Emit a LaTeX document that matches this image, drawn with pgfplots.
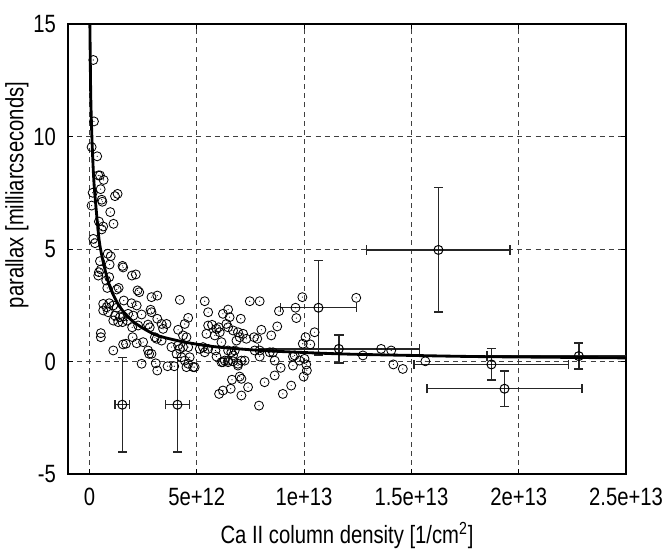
\documentclass[border=0pt]{standalone}
\usepackage{fontspec}
\setmainfont[FakeStretch=0.81]{Liberation Sans}
\usepackage{pgfplots}
\pgfplotsset{compat=1.18}
\usepackage{pgfplotstable}

\pgfdeclareplotmark{circdot}{%
  \pgfpathcircle{\pgfpointorigin}{\pgfplotmarksize}\pgfusepathqstroke
  \pgfpathcircle{\pgfpointorigin}{0.35pt}\pgfusepathqfill}

% x in units of 1e12 cm^-2, parallax in mas
\pgfplotstableread{
x y
0.18 13.4
0.21 10.67
0.10 9.53
0.36 9.12
0.41 8.27
0.49 8.27
0.66 8.07
0.52 7.66
0.15 7.50
1.19 7.35
1.31 7.45
0.57 7.19
0.60 7.10
0.10 6.93
0.97 6.64
0.44 6.22
0.64 6.00
0.57 5.87
1.12 6.12
0.18 5.45
0.26 5.26
0.85 4.79
0.99 4.68
0.49 4.46
0.94 4.31
1.54 4.25
1.57 4.18
0.53 4.09
0.41 3.82
0.44 3.97
0.78 3.60
0.92 3.75
1.98 3.82
2.16 3.87
0.83 3.27
1.36 3.27
1.27 3.20
2.24 3.16
2.32 3.08
2.89 2.86
3.16 2.93
4.21 2.74
5.37 2.68
5.53 2.19
0.64 2.56
0.92 2.59
0.80 2.41
1.11 2.49
1.27 2.39
1.60 2.71
1.96 2.59
2.20 2.49
2.85 2.30
2.89 2.19
0.64 2.27
0.87 2.19
1.19 2.04
1.42 1.97
1.57 2.00
1.80 2.12
2.04 2.04
1.11 1.82
1.34 1.75
2.43 2.09
1.54 1.75
1.76 1.82
1.99 1.52
2.27 1.60
2.73 1.64
2.81 1.52
3.16 1.90
3.36 1.67
3.43 1.45
3.59 1.67
4.13 1.41
4.60 1.94
4.44 1.67
4.36 1.16
4.52 1.08
5.53 1.60
5.45 1.23
5.92 1.45
0.53 1.26
0.53 1.08
2.01 1.08
2.20 0.81
2.50 0.86
1.57 0.76
1.70 0.79
1.11 0.49
2.73 0.49
2.78 0.34
3.05 1.08
3.13 1.01
3.36 0.93
3.82 0.64
4.13 0.71
4.21 0.56
4.36 0.64
4.60 0.64
4.06 0.34
4.29 0.19
4.44 0.04
4.60 -0.10
4.67 0.19
4.90 -0.25
5.29 0.64
5.37 0.41
5.87 0.49
2.43 -0.10
3.09 -0.08
3.16 -0.40
2.89 0.34
3.64 -0.21
3.95 -0.21
4.52 -0.25
4.83 -0.25
6.22 -0.03
6.46 0.04
6.69 0.27
6.92 -0.10
7.23 0.04
6.64 -0.81
7.08 -0.77
7.00 -0.67
6.04 -1.44
6.22 -1.29
6.58 -1.21
7.08 -1.51
7.39 -1.14
7.90 -1.96
6.46 2.31
6.53 1.97
6.22 2.12
7.47 2.68
7.93 2.68
7.05 1.90
5.71 1.63
6.02 1.52
6.07 1.30
6.38 1.67
6.46 1.52
6.69 1.38
6.92 1.30
7.16 1.23
7.31 1.01
6.85 0.93
7.00 1.08
8.01 1.41
7.67 1.08
7.82 1.01
8.47 1.16
8.75 1.56
5.84 1.16
6.15 0.86
6.46 0.49
6.61 0.41
6.77 0.49
5.53 0.56
5.14 0.56
5.92 0.22
6.15 -0.03
6.30 0.04
6.46 -0.03
6.69 0.01
6.92 -0.18
7.08 0.04
7.70 0.49
7.93 0.49
7.93 0.22
8.55 0.41
8.40 0.41
8.16 -0.92
8.63 -0.62
8.91 -0.28
9.01 -1.44
9.40 -1.07
9.48 0.22
9.48 -0.18
8.63 0.04
8.83 2.24
9.92 2.86
12.43 2.83
9.60 2.39
9.64 1.93
10.49 1.30
10.07 1.08
9.94 0.79
10.29 0.76
9.56 0.27
9.79 0.04
10.02 0.12
10.10 -0.13
10.13 -0.40
9.98 -0.67
12.74 0.27
13.59 0.56
14.06 0.49
14.16 -0.13
14.60 -0.33
15.65 0.01
}\scatterdata

\pgfplotstableread{
x y ex ey
1.53 -1.92 0.33 2.10
4.10 -1.92 0.56 2.10
10.67 2.39 1.78 2.10
11.62 0.56 3.75 0.62
16.26 4.96 3.34 2.77
18.73 -0.13 3.60 0.70
19.34 -1.21 3.62 0.78
22.80 0.24 4.28 0.58
}\errdata

\pgfplotstableread{
x y
0.00 15.6
0.02 14.9
0.06 11.8
0.12 9.8
0.20 8.1
0.30 6.9
0.45 5.4
0.60 4.6
0.80 3.8
1.00 3.2
1.40 2.45
2.00 1.80
3.00 1.22
4.00 0.95
5.00 0.77
6.00 0.64
8.00 0.49
10.00 0.40
12.00 0.33
15.00 0.27
18.00 0.22
22.00 0.185
25.00 0.16
}\fitdata

\begin{document}
\fontsize{15pt}{18pt}\selectfont
\begin{tikzpicture}
\begin{axis}[
  scale only axis,
  width=334.8pt, height=270pt,
  xmin=-1, xmax=25, ymin=-5, ymax=15,
  xtick={0,5,10,15,20,25},
  xticklabels={0,5e+12,1e+13,1.5e+13,2e+13,2.5e+13},
  ytick={-5,0,5,10,15},
  yticklabels={-5,0,5,10,15},
  tick align=inside,
  major tick length=3pt,
  tick style={black, line width=0.6pt},
  grid=major,
  major grid style={black!75, line width=0.5pt, dash pattern=on 3pt off 2.5pt},
  axis line style={line width=0.9pt},
  xticklabel style={font=\fontsize{15pt}{18pt}\selectfont, yshift=-3pt},
  yticklabel style={font=\fontsize{15pt}{18pt}\selectfont, xshift=-2pt},
  xlabel={Ca II column density [1/cm\textsuperscript{2}]},
  ylabel={parallax [milliarcseconds]},
  label style={font=\fontsize{15pt}{18pt}\selectfont},
  xlabel style={yshift=0pt},
  ylabel style={at={(axis description cs:-0.0914,0.62)}, anchor=center},
]
\addplot[only marks, mark=circdot, mark size=2.7pt, mark options={line width=0.5pt, black}] table[x=x,y=y] {\scatterdata};
\addplot[only marks, mark=circdot, mark size=2.7pt, mark options={line width=0.6pt, black},
  error bars/.cd, x dir=both, x explicit, y dir=both, y explicit,
  error bar style={line width=0.9pt, black!85},
  error mark options={rotate=90, mark size=2.8pt, line width=0.9pt, black!85}]
  table[x=x,y=y,x error=ex,y error=ey] {\errdata};
\addplot[black, line width=1.7pt, smooth, tension=0.5] table[x=x,y=y] {\fitdata};
\end{axis}
\pgfresetboundingbox
\path[use as bounding box] (-40.8pt,-45.6pt) rectangle (360pt,284.4pt);
\end{tikzpicture}
\end{document}
